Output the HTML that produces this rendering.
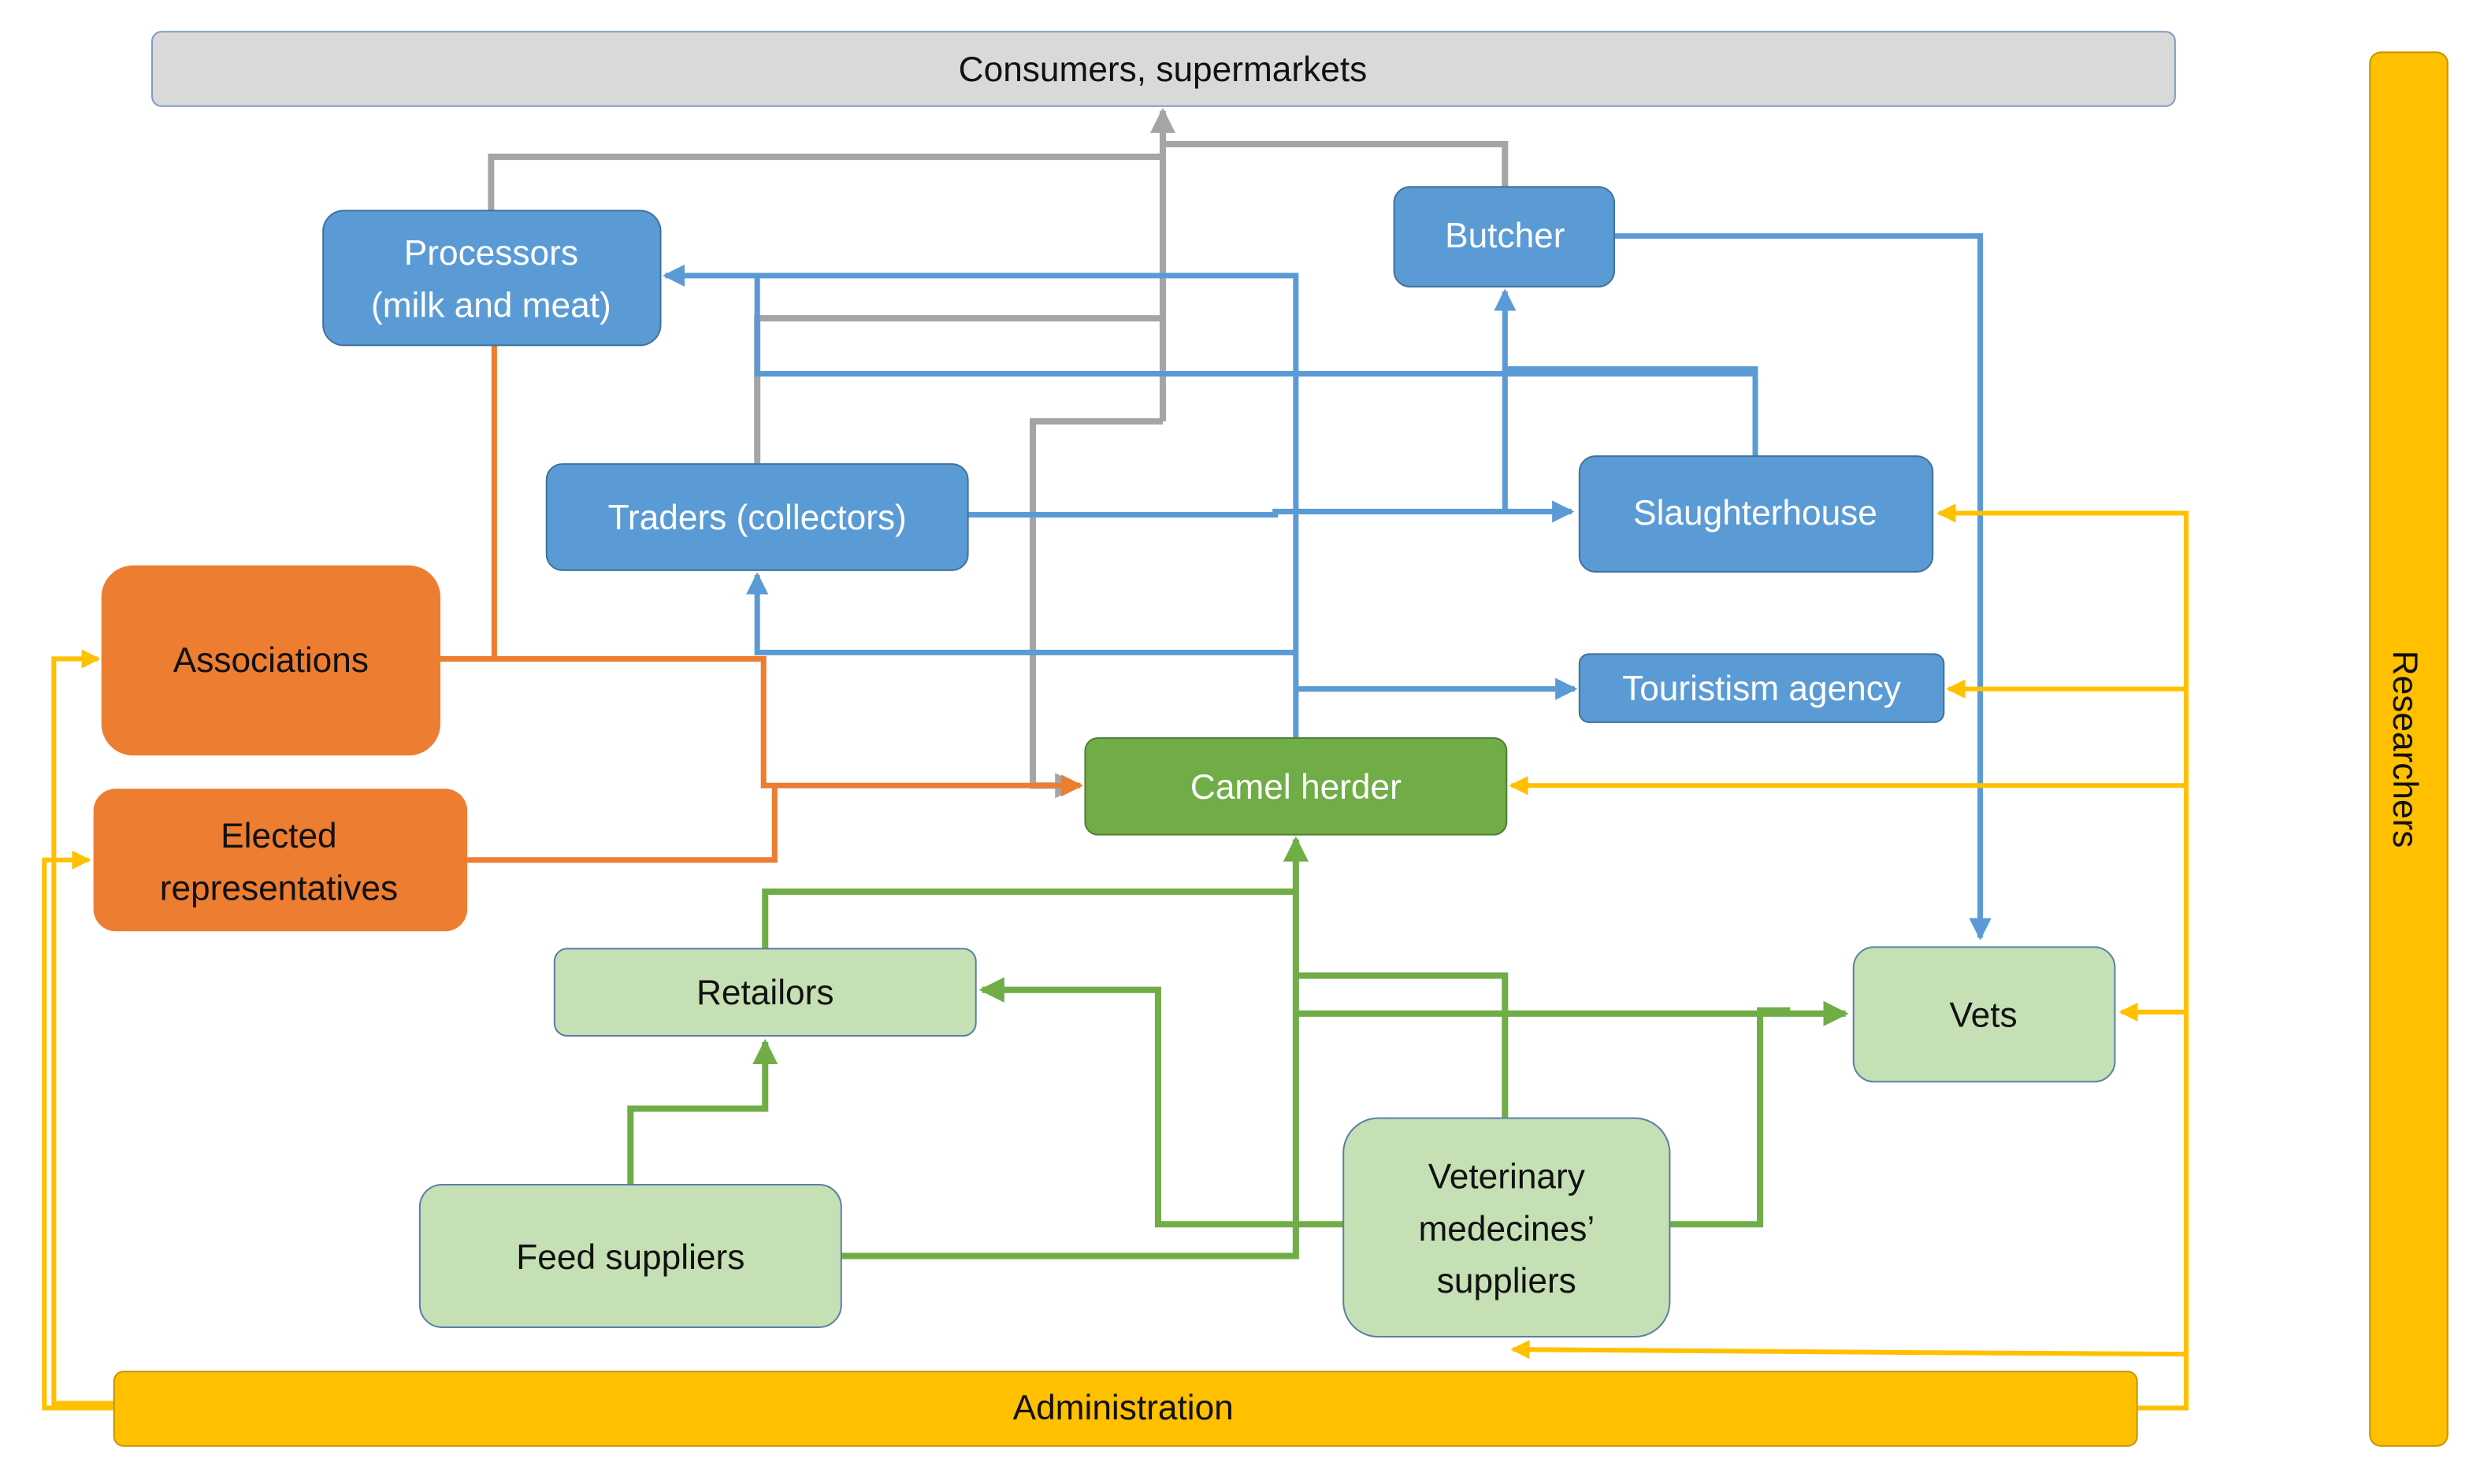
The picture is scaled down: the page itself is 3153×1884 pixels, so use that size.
<!DOCTYPE html>
<html><head><meta charset="utf-8"><style>
html,body{margin:0;padding:0;background:#fff;width:3153px;height:1884px;overflow:hidden}
svg{display:block}
text{font-family:"Liberation Sans",sans-serif;font-size:22px;text-anchor:middle;dominant-baseline:central}
.w{fill:#fff}.k{fill:#111}
</style></head><body>
<svg width="3153" height="1884" viewBox="0 0 1568 937" preserveAspectRatio="none" xmlns="http://www.w3.org/2000/svg">
<defs>
<marker id="ag" markerWidth="4" markerHeight="4" refX="3.5" refY="2" orient="auto" markerUnits="strokeWidth"><path d="M0,0 L4,2 L0,4 z" fill="#a5a5a5"/></marker>
<marker id="ab" markerWidth="4" markerHeight="4" refX="3.5" refY="2" orient="auto" markerUnits="strokeWidth"><path d="M0,0 L4,2 L0,4 z" fill="#5b9bd5"/></marker>
<marker id="ao" markerWidth="4" markerHeight="4" refX="3.5" refY="2" orient="auto" markerUnits="strokeWidth"><path d="M0,0 L4,2 L0,4 z" fill="#ed7d31"/></marker>
<marker id="agr" markerWidth="4" markerHeight="4" refX="3.5" refY="2" orient="auto" markerUnits="strokeWidth"><path d="M0,0 L4,2 L0,4 z" fill="#70ad47"/></marker>
<marker id="ay" markerWidth="4" markerHeight="4" refX="3.5" refY="2" orient="auto" markerUnits="strokeWidth"><path d="M0,0 L4,2 L0,4 z" fill="#ffc000"/></marker>
</defs>

<g fill="none" stroke="#a5a5a5" stroke-width="4">
<polyline points="310,133 310,99 734,99"/>
<polyline points="950,118 950,91 734,91"/>
<polyline points="478,293 478,201 734,201"/>
<polyline points="734,266 734,70" marker-end="url(#ag)"/>
<polyline points="734,266 652,266 652,496 680,496" marker-end="url(#ag)"/>
</g>
<g fill="none" stroke="#5b9bd5" stroke-width="3.5">
<polyline points="1019,149 1250,149 1250,592" marker-end="url(#ab)"/>
<polyline points="818,466 818,174 420,174" marker-end="url(#ab)"/>
<polyline points="478,174 478,236 1108,236"/>
<polyline points="950,233 1108,233 1108,288"/>
<polyline points="611,325 805,325 805,323 992,323" marker-end="url(#ab)"/>
<polyline points="950,323 950,184" marker-end="url(#ab)"/>
<polyline points="818,412 478,412 478,363" marker-end="url(#ab)"/>
<polyline points="818,435 994,435" marker-end="url(#ab)"/>
</g>
<g fill="none" stroke="#ed7d31" stroke-width="3.5">
<polyline points="312,218 312,416"/>
<polyline points="278,416 482,416 482,496 682,496" marker-end="url(#ao)"/>
<polyline points="295,543 489,543 489,496"/>
</g>
<g fill="none" stroke="#70ad47" stroke-width="4">
<polyline points="531,793 818,793 818,530" marker-end="url(#agr)"/>
<polyline points="483,599 483,563 818,563"/>
<polyline points="818,616 950,616 950,706"/>
<polyline points="818,640 1165,640" marker-end="url(#agr)"/>
<polyline points="1054,773 1111,773 1111,638 1130,638"/>
<polyline points="848,773 731,773 731,625 620,625" marker-end="url(#agr)"/>
<polyline points="398,748 398,700 483,700 483,658" marker-end="url(#agr)"/>
</g>
<g fill="none" stroke="#ffc000" stroke-width="3">
<polyline points="1349,889 1380,889 1380,324 1224,324" marker-end="url(#ay)"/>
<polyline points="1380,435 1230,435" marker-end="url(#ay)"/>
<polyline points="1380,496 954,496" marker-end="url(#ay)"/>
<polyline points="1380,639 1339,639" marker-end="url(#ay)"/>
<polyline points="1380,855 1210,854 955,852" marker-end="url(#ay)"/>
<polyline points="72,889 28,889 28,543 56,543" marker-end="url(#ay)"/>
<polyline points="72,886 34,886 34,416 62,416" marker-end="url(#ay)"/>
</g>

<rect x="96" y="20" width="1277" height="47" rx="6" fill="#d9d9d9" stroke="#7f9bc4" stroke-width="1"/>
<text x="734" y="44" class="k">Consumers,  supermarkets</text>
<rect x="1496" y="33" width="49" height="880" rx="7" fill="#ffc000" stroke="#c49500" stroke-width="1"/>
<text x="0" y="0" class="k" transform="translate(1518,473) rotate(90)">Researchers</text>
<rect x="72" y="866" width="1277" height="47" rx="6" fill="#ffc000" stroke="#c49500" stroke-width="1"/>
<text x="709" y="889" class="k">Administration</text>

<g fill="#5b9bd5" stroke="#41719c" stroke-width="1">
<rect x="204" y="133" width="213" height="85" rx="13"/>
<rect x="880" y="118" width="139" height="63" rx="10"/>
<rect x="345" y="293" width="266" height="67" rx="10"/>
<rect x="997" y="288" width="223" height="73" rx="10"/>
<rect x="997" y="413" width="230" height="43" rx="6"/>
</g>
<text x="310" y="160" class="w">Processors</text>
<text x="310" y="193" class="w">(milk and meat)</text>
<text x="950" y="149" class="w">Butcher</text>
<text x="478" y="327" class="w">Traders (collectors)</text>
<text x="1108" y="324" class="w">Slaughterhouse</text>
<text x="1112" y="435" class="w">Touristism  agency</text>

<rect x="685" y="466" width="266" height="61" rx="8" fill="#70ad47" stroke="#507e32" stroke-width="1"/>
<text x="818" y="497" class="w">Camel herder</text>

<g fill="#ed7d31">
<rect x="64" y="357" width="214" height="120" rx="20"/>
<rect x="59" y="498" width="236" height="90" rx="14"/>
</g>
<text x="171" y="417" class="k">Associations</text>
<text x="176" y="528" class="k">Elected</text>
<text x="176" y="561" class="k">representatives</text>

<g fill="#c5e0b4" stroke="#5a7fa6" stroke-width="1">
<rect x="350" y="599" width="266" height="55" rx="8"/>
<rect x="1170" y="598" width="165" height="85" rx="13"/>
<rect x="265" y="748" width="266" height="90" rx="14"/>
<rect x="848" y="706" width="206" height="138" rx="22"/>
</g>
<text x="483" y="627" class="k">Retailors</text>
<text x="1252" y="641" class="k">Vets</text>
<text x="398" y="794" class="k">Feed suppliers</text>
<text x="951" y="743" class="k">Veterinary</text>
<text x="951" y="776" class="k">medecines’</text>
<text x="951" y="809" class="k">suppliers</text>
</svg>
</body></html>
